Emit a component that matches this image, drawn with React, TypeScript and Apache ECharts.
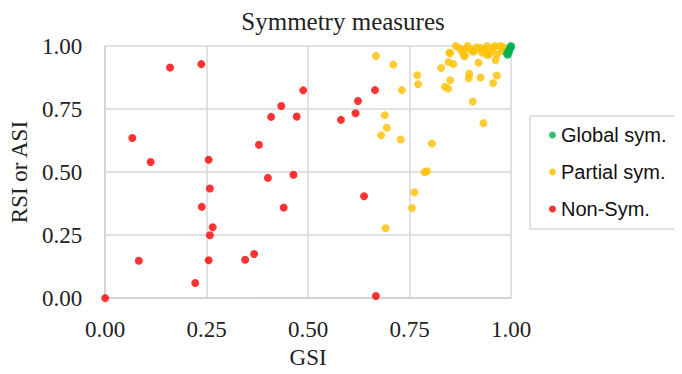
import React, { useEffect, useRef } from "react";
import * as echarts from "echarts";

const titleText = "Symmetry measures";
const xName = "GSI";
const yName = "RSI or ASI";
const seriesNames = ["Global sym.", "Partial sym.", "Non-Sym."];

const globalSym: number[][] = [
  [0.990, 0.970], [0.993, 0.978], [0.996, 0.985], [0.998, 0.992], [1.0, 1.0],
  [0.995, 0.975], [1.0, 0.995], [0.992, 0.965],
];

const partialSym: number[][] = [
  [0.762, 0.420], [0.756, 0.357], [0.691, 0.277], [0.667, 0.960], [0.710, 0.926],
  [0.769, 0.884], [0.771, 0.848], [0.731, 0.825], [0.689, 0.725], [0.694, 0.676],
  [0.680, 0.646], [0.728, 0.629], [0.805, 0.613], [0.787, 0.499], [0.793, 0.503],
  [0.828, 0.913], [0.850, 0.971], [0.846, 0.936], [0.858, 0.928], [0.850, 0.864],
  [0.837, 0.838], [0.845, 0.831], [0.897, 0.890], [0.896, 0.872], [0.925, 0.875],
  [0.906, 0.780], [0.932, 0.694], [0.920, 0.934], [0.962, 0.943], [0.965, 0.883],
  [0.956, 0.853], [0.885, 0.961],
  [0.864, 1.0], [0.848, 0.973], [0.872, 0.992], [0.884, 0.986], [0.886, 0.960],
  [0.900, 0.986], [0.909, 0.979], [0.925, 0.992], [0.929, 0.973], [0.941, 1.0],
  [0.949, 0.979], [0.957, 0.992], [0.965, 0.966], [0.973, 1.0], [0.977, 0.979],
  [0.893, 1.0], [0.915, 0.995], [0.935, 0.985], [0.960, 1.0], [0.982, 0.995],
  [0.880, 0.975], [0.945, 0.965], [0.906, 0.978], [0.941, 0.965],
];

const nonSym: number[][] = [
  [0.160, 0.915], [0.237, 0.928], [0.488, 0.824], [0.434, 0.762], [0.409, 0.719],
  [0.472, 0.720], [0.067, 0.635], [0.379, 0.608], [0.112, 0.540], [0.255, 0.549],
  [0.401, 0.477], [0.464, 0.489], [0.258, 0.435], [0.665, 0.825], [0.623, 0.782],
  [0.617, 0.733], [0.581, 0.707], [0.238, 0.362], [0.440, 0.359], [0.265, 0.281],
  [0.258, 0.249], [0.083, 0.148], [0.255, 0.150], [0.345, 0.152], [0.367, 0.175],
  [0.222, 0.060], [0.0, 0.0], [0.638, 0.404], [0.667, 0.008],
];

const colors = ["#00b050", "#ffc000", "#ff0000"];

export default function App() {
  const ref = useRef<HTMLDivElement>(null);
  useEffect(() => {
    if (!ref.current) return;
    const chart = echarts.init(ref.current, null, { renderer: "svg" });
    const serif = "'Liberation Serif', 'Times New Roman', serif";
    const sans = "'Liberation Sans', Arial, sans-serif";
    const axisCommon = {
      min: 0,
      max: 1,
      interval: 0.25,
      axisLine: { show: true, lineStyle: { color: "#d0d0d0", width: 1.5 } },
      axisTick: { show: false },
      splitLine: { show: true, lineStyle: { color: "#d9d9d9", width: 1.5 } },
      nameLocation: "middle" as const,
      nameTextStyle: { fontFamily: serif, fontSize: 23, color: "#222" },
    };
    chart.setOption({
      animation: false,
      color: colors,
      title: {
        text: titleText,
        left: 338,
        textAlign: "center",
        top: 4,
        textStyle: { fontFamily: serif, fontSize: 25, fontWeight: "normal", color: "#222" },
      },
      grid: { left: 99, right: 171, top: 46, bottom: 72, containLabel: false },
      xAxis: {
        ...axisCommon,
        type: "value",
        name: xName,
        nameGap: 47,
        axisLabel: {
          margin: 20,
          fontFamily: serif,
          fontSize: 23,
          color: "#222",
          formatter: (v: number) => v.toFixed(2),
        },
      },
      yAxis: {
        ...axisCommon,
        type: "value",
        name: yName,
        nameGap: 64,
        axisLabel: {
          margin: 23,
          fontFamily: serif,
          fontSize: 23,
          color: "#222",
          formatter: (v: number) => v.toFixed(2),
        },
      },
      legend: {
        orient: "vertical",
        left: 549,
        top: 124,
        icon: "circle",
        itemWidth: 7,
        itemHeight: 7,
        itemGap: 15,
        itemTextGap: 10,
        padding: 0,
        textStyle: { fontFamily: sans, fontSize: 20, color: "#111", lineHeight: 22 },
        data: seriesNames,
      },
      graphic: [
        {
          type: "rect",
          shape: { x: 530, y: 116, width: 150, height: 113 },
          style: { fill: "none", stroke: "#d9d9d9", lineWidth: 1.5 },
          silent: true,
        },
      ],
      series: [
        { name: seriesNames[2], type: "scatter", data: nonSym, symbolSize: 8, clip: false, itemStyle: { color: colors[2] } },
        { name: seriesNames[1], type: "scatter", data: partialSym, symbolSize: 8, clip: false, itemStyle: { color: colors[1] } },
        { name: seriesNames[0], type: "scatter", data: globalSym, symbolSize: 8, clip: false, itemStyle: { color: colors[0] } },
      ],
    });
    return () => chart.dispose();
  }, []);
  return <div ref={ref} style={{ width: 682, height: 374, margin: -8 }} />;
}
